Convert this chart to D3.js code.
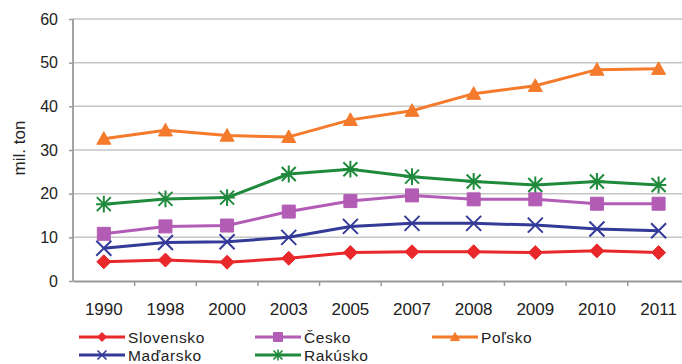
<!DOCTYPE html>
<html><head><meta charset="utf-8">
<script src="https://cdn.jsdelivr.net/npm/d3@7"></script>
<style>
html,body{margin:0;padding:0;background:#fff;}
text{font-family:"Liberation Sans",Arial,sans-serif;fill:#222;}
</style></head>
<body><svg id="c" width="682" height="364"></svg>
<script>
const categories = ["1990","1998","2000","2003","2005","2007","2008","2009","2010","2011"];
const slovensko = [4.4, 4.8, 4.3, 5.2, 6.5, 6.7, 6.7, 6.5, 6.9, 6.5];
const madarsko  = [7.5, 8.8, 9.0, 10.0, 12.5, 13.2, 13.2, 12.8, 11.9, 11.5];
const cesko     = [10.8, 12.5, 12.7, 15.9, 18.3, 19.6, 18.7, 18.7, 17.7, 17.7];
const rakusko   = [17.6, 18.8, 19.1, 24.5, 25.6, 23.9, 22.8, 22.0, 22.8, 22.0];
const polsko    = [32.6, 34.5, 33.3, 33.0, 36.9, 39.0, 42.9, 44.7, 48.4, 48.6];
const yTicks = [0, 10, 20, 30, 40, 50, 60];
const yTitle = "mil. ton";

const series = [
  {name:"Slovensko", values:slovensko, color:"#e8282b", marker:"diamond", lx:79, ly:337},
  {name:"Česko", values:cesko, color:"#b25cb5", marker:"square", lx:255, ly:337},
  {name:"Poľsko", values:polsko, color:"#f47a2c", marker:"triangle", lx:432, ly:337},
  {name:"Maďarsko", values:madarsko, color:"#343a98", marker:"x", lx:79, ly:355},
  {name:"Rakúsko", values:rakusko, color:"#1f8a3c", marker:"star", lx:255, ly:355}
];

const svg = d3.select("#c");
const pLeft = 73, pRight = 689.4, pTop = 19, pBottom = 281;
const x = d3.scaleBand().domain(categories).range([pLeft, pRight]).padding(0);
const cx = c => x(c) + x.bandwidth()/2;
const y = d3.scaleLinear().domain([0, 60]).range([pBottom, pTop]);

// gridlines + y axis
const ya = svg.append("g").attr("transform", `translate(${pLeft},0)`)
  .call(d3.axisLeft(y).tickValues(yTicks).tickSize(4).tickPadding(11).tickFormat(d3.format("d")));
ya.select(".domain").remove();
ya.selectAll(".tick line").attr("stroke", "#9a9a9a").attr("stroke-width", 1.5);
ya.selectAll(".tick text").style("font-size", "16px").attr("fill", "#222");
svg.append("g").selectAll("line").data(yTicks.filter(d => d > 0)).join("line")
  .attr("x1", pLeft).attr("x2", pRight).attr("y1", d => y(d)).attr("y2", d => y(d))
  .attr("stroke", "#c6c6c6").attr("stroke-width", 1.5);
svg.append("line").attr("x1", pLeft).attr("x2", pLeft).attr("y1", pTop).attr("y2", pBottom)
  .attr("stroke", "#9a9a9a").attr("stroke-width", 1.8);

// x axis
const xa = svg.append("g").attr("transform", `translate(0,${pBottom})`)
  .call(d3.axisBottom(x).tickSize(0).tickPadding(22));
xa.select(".domain").attr("stroke", "#9a9a9a").attr("stroke-width", 1.8);
xa.selectAll(".tick text").style("font-size", "17px").attr("fill", "#222");
svg.append("g").selectAll("line").data(categories.slice(1)).join("line")
  .attr("x1", d => x(d)).attr("x2", d => x(d)).attr("y1", pBottom).attr("y2", pBottom + 5)
  .attr("stroke", "#9a9a9a").attr("stroke-width", 1.5);

// y title
svg.append("text").attr("transform", "translate(19,148) rotate(-90)")
  .attr("text-anchor", "middle").attr("dy", "0.35em").style("font-size", "17px").text(yTitle);

function markerPath(type, s) {
  const h = s/2;
  switch(type) {
    case "diamond": return `M0,${-h}L${h},0L0,${h}L${-h},0Z`;
    case "square": return `M${-h},${-h}H${h}V${h}H${-h}Z`;
    case "triangle": return `M0,${-h}L${h},${h*0.8}L${-h},${h*0.8}Z`;
    case "x": return `M${-h},${-h}L${h},${h}M${-h},${h}L${h},${-h}`;
    case "star": return `M${-h},${-h}L${h},${h}M${-h},${h}L${h},${-h}M0,${-h*1.2}V${h*1.2}M${-h*1.1},0H${h*1.1}`;
  }
}
const sizes = {diamond:14, square:13, triangle:14, x:15, star:14};
const line = d3.line().x((d,i) => cx(categories[i])).y(d => y(d));

const order = [series[4], series[2], series[1], series[3], series[0]];
order.forEach(s => {
  const g = svg.append("g");
  g.append("path").attr("d", line(s.values)).attr("fill", "none")
    .attr("stroke", s.color).attr("stroke-width", 3).attr("stroke-linejoin", "round");
  const open = s.marker === "x" || s.marker === "star";
  g.selectAll("path.m").data(s.values).join("path").attr("class", "m")
    .attr("transform", (d,i) => `translate(${cx(categories[i])},${y(d)})`)
    .attr("d", markerPath(s.marker, sizes[s.marker]))
    .attr("fill", open ? "none" : s.color)
    .attr("stroke", s.color).attr("stroke-width", open ? 2 : 1);
});

// legend
series.forEach(s => {
  const g = svg.append("g").attr("transform", `translate(${s.lx},${s.ly})`);
  g.append("line").attr("x1", 0).attr("x2", 46).attr("stroke", s.color).attr("stroke-width", 3);
  const open = s.marker === "x" || s.marker === "star";
  g.append("path").attr("transform", "translate(23,0)").attr("d", markerPath(s.marker, 9))
    .attr("fill", open ? "none" : s.color).attr("stroke", s.color).attr("stroke-width", open ? 1.6 : 1);
  g.append("text").attr("x", 49).attr("dy", "0.36em").style("font-size", "15.5px")
    .style("letter-spacing", "0.6px").text(s.name);
});
</script></body></html>
